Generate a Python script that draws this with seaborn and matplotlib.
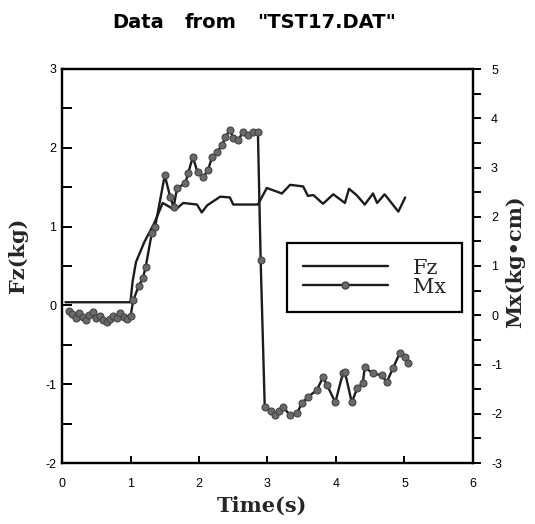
import numpy as np
import pandas as pd
import seaborn as sns
import matplotlib.pyplot as plt
from matplotlib.lines import Line2D
from matplotlib.ticker import MultipleLocator

sns.set_style("white")
plt.rcParams['font.family'] = ['Liberation Sans', 'DejaVu Sans']
plt.rcParams['axes.unicode_minus'] = False

# ---- data ----
fz_time = [0.05, 1.0, 1.03, 1.08, 1.2, 1.35, 1.47, 1.65, 1.77, 1.97, 2.04, 2.12,
           2.31, 2.45, 2.5, 2.86, 2.99, 3.21, 3.33, 3.52, 3.59, 3.67, 3.81, 3.96,
           4.13, 4.19, 4.30, 4.42, 4.54, 4.60, 4.71, 4.91, 5.01]
fz_kg = [0.04, 0.04, 0.3, 0.55, 0.8, 1.05, 1.30, 1.21, 1.30, 1.28, 1.18, 1.27,
         1.38, 1.37, 1.28, 1.28, 1.49, 1.42, 1.53, 1.51, 1.39, 1.40, 1.29, 1.41,
         1.30, 1.48, 1.40, 1.28, 1.42, 1.30, 1.41, 1.19, 1.37]

mx_time = [0.1, 0.15, 0.2, 0.25, 0.3, 0.35, 0.4, 0.45, 0.5, 0.55, 0.6, 0.65, 0.7,
           0.75, 0.8, 0.85, 0.9, 0.95, 1.0, 1.04, 1.12, 1.18, 1.22, 1.31, 1.36,
           1.50, 1.58, 1.63, 1.68, 1.80, 1.84, 1.91, 1.98, 2.06, 2.13, 2.19, 2.26,
           2.34, 2.38, 2.45, 2.50, 2.57, 2.64, 2.72, 2.79, 2.86, 2.90, 2.96, 3.05,
           3.11, 3.17, 3.23, 3.33, 3.43, 3.50, 3.59, 3.72, 3.81, 3.87, 3.99, 4.10,
           4.13, 4.23, 4.31, 4.39, 4.42, 4.54, 4.67, 4.74, 4.83, 4.93, 5.01, 5.05]
mx_kgcm = [0.08, 0.02, -0.06, 0.04, -0.04, -0.10, 0.0, 0.06, -0.06, -0.02, -0.10,
           -0.14, -0.08, -0.02, -0.06, 0.04, -0.04, -0.08, -0.02, 0.3, 0.6, 0.75,
           0.97, 1.66, 1.8, 2.84, 2.4, 2.2, 2.58, 2.68, 2.88, 3.21, 2.90, 2.80,
           2.94, 3.21, 3.31, 3.45, 3.61, 3.76, 3.60, 3.55, 3.72, 3.66, 3.72, 3.72,
           1.12, -1.87, -1.95, -2.03, -1.95, -1.87, -2.03, -1.99, -1.79, -1.66,
           -1.52, -1.26, -1.42, -1.77, -1.18, -1.15, -1.77, -1.48, -1.38, -1.06,
           -1.18, -1.22, -1.36, -1.08, -0.77, -0.85, -0.97]

x_ticks = [0, 1, 2, 3, 4, 5, 6]
left_ticks = [-2, -1, 0, 1, 2, 3]
right_ticks = [-3, -2, -1, 0, 1, 2, 3, 4, 5]

title_words = ["Data", "from", '"TST17.DAT"']
legend_labels = ["Fz", "Mx"]

# ---- figure ----
fig = plt.figure(figsize=(5.35, 5.24), dpi=100)
ax = fig.add_axes([62 / 535, 1 - 463 / 524, 411 / 535, 394 / 524])
ax2 = ax.twinx()

line_col = '#1c1c1c'
fz_df = pd.DataFrame({'t': fz_time, 'Fz': fz_kg})
mx_df = pd.DataFrame({'t': mx_time, 'Mx': mx_kgcm})

sns.lineplot(data=fz_df, x='t', y='Fz', ax=ax, color=line_col, lw=1.7,
             sort=False, estimator=None)
sns.lineplot(data=mx_df, x='t', y='Mx', ax=ax2, color=line_col, lw=1.7,
             sort=False, estimator=None, marker='o', markersize=5,
             markerfacecolor='#6a6a6a', markeredgecolor='#444444',
             markeredgewidth=0.8)

ax.set_xlim(0, 6)
ax.set_ylim(-2, 3)
ax2.set_ylim(-3, 5)
ax.set_xticks(x_ticks)
ax.set_yticks(left_ticks)
ax2.set_yticks(right_ticks)
ax.yaxis.set_minor_locator(MultipleLocator(0.5))
ax2.yaxis.set_minor_locator(MultipleLocator(0.5))

for a in (ax, ax2):
    for s in a.spines.values():
        s.set_color('black')
        s.set_linewidth(1.6)

ax.tick_params(axis='y', which='both', direction='in', length=7, width=1.4,
               left=True, right=False, labelsize=9, pad=4, colors='black')
ax.tick_params(axis='x', which='both', direction='in', length=5, width=1.4,
               bottom=True, top=False, labelsize=9, pad=11, colors='black')
ax2.tick_params(axis='y', which='both', direction='out', length=6, width=1.4,
                right=True, left=False, labelsize=9, pad=7, colors='black')

serif = ['DejaVu Serif']
ax.set_xlabel("Time(s)", family=serif, fontsize=15, fontweight='bold')
ax.set_ylabel("Fz(kg)", family=serif, fontsize=15, fontweight='bold')
ax2.set_ylabel("Mx(kg\u2022cm)", family=serif, fontsize=15, fontweight='bold',
               rotation=90)
ax.xaxis.set_label_coords((262 - 62) / 411, (463 - 496) / 394)
ax.yaxis.set_label_coords((28 - 62) / 411, (463 - 255) / 394)
ax2.yaxis.set_label_coords((505 - 62) / 411, (463 - 262) / 394)

# title as three words with wide gaps
for word, xp in zip(title_words, [112, 185, 257]):
    fig.text(xp / 535, 1 - 23 / 524, word, ha='left', va='center',
             fontsize=14, fontweight='bold', family=['DejaVu Sans'],
             color='black')

handles = [Line2D([], [], color=line_col, lw=1.7),
           Line2D([], [], color=line_col, lw=1.7, marker='o', markersize=5,
                  markerfacecolor='#6a6a6a', markeredgecolor='#444444')]
leg = ax2.legend(handles, legend_labels, loc='upper left',
                 bbox_to_anchor=((287 - 62) / 411, (463 - 243) / 394),
                 borderaxespad=0, frameon=True, fancybox=False, framealpha=1,
                 edgecolor='black', numpoints=1, handlelength=4.1,
                 handletextpad=1.2, labelspacing=0.0, borderpad=0.75,
                 prop={'family': 'DejaVu Serif', 'size': 15})
leg.get_frame().set_linewidth(1.6)

fig.savefig('out.png', dpi=100)
